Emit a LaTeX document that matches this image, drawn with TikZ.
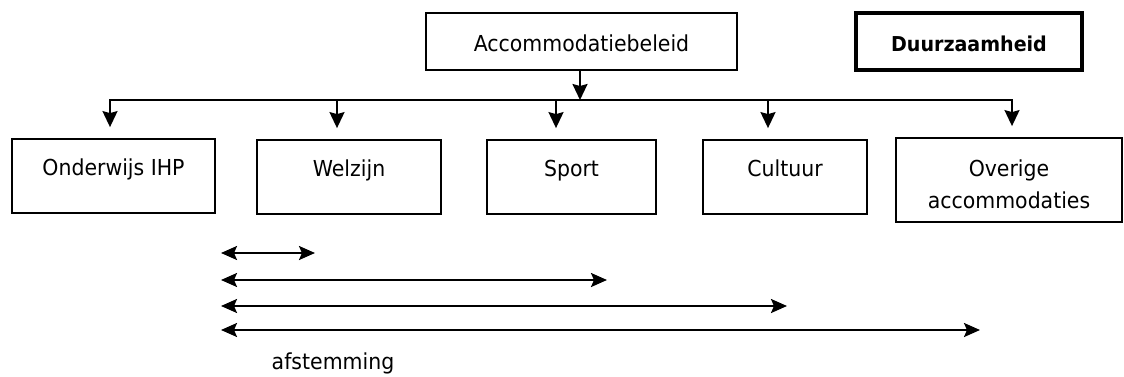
\documentclass[tikz,border=0pt]{standalone}
\usepackage{fontspec}
\setmainfont{DejaVu Sans}[FakeStretch=0.93]
\usetikzlibrary{arrows.meta}

\tikzset{
  vak/.style={draw, line width=1.8pt, minimum height=74pt, text height=16pt, text depth=18pt},
  kop/.style={draw, line width=1.8pt, minimum height=57pt, text height=20pt, text depth=0pt},
  pijl/.style={-{Stealth[length=16pt,width=15pt,inset=2pt]}, line width=2pt},
  tweepijl/.style={{Stealth[length=16pt,width=14pt,inset=3pt]}-{Stealth[length=16pt,width=14pt,inset=3pt]}, line width=2.2pt}
}

\begin{document}
\begin{tikzpicture}[x=1pt,y=-1pt,font=\fontsize{22}{32}\selectfont]
  \useasboundingbox (0,0) rectangle (1124,376);

  % top row
  \node[kop, minimum width=311pt] (beleid) at (581.5,41.5) {Accommodatiebeleid};
  \node[kop, line width=3.8pt, minimum width=226pt, font=\fontsize{20.5}{24}\bfseries] (duurzaam) at (969,41.5) {Duurzaamheid};

  % second row
  \node[vak, minimum width=203pt] (ihp) at (113.5,176) {Onderwijs IHP};
  \node[vak, minimum width=184pt] (welzijn) at (349,177) {Welzijn};
  \node[vak, minimum width=169pt] (sport) at (571.5,177) {Sport};
  \node[vak, minimum width=164pt] (cultuur) at (785,177) {Cultuur};
  \node[draw, line width=1.8pt, minimum width=226pt, minimum height=84pt, text height=40pt, text depth=18pt] (overig) at (1009,180)
    {\begin{tabular}{@{}c@{}}Overige\\accommodaties\end{tabular}};

  % verdeling
  \coordinate (bus) at (0,100);
  \draw[pijl] (580,0 |- beleid.south) -- (580,0 |- bus);
  \draw[{Stealth[length=16pt,width=15pt,inset=2pt]}-{Stealth[length=16pt,width=15pt,inset=2pt]}, line width=2pt, shorten <=11pt, shorten >=11pt]
    (110,0 |- ihp.north) -- (110,0 |- bus) -- (1012,0 |- bus) -- (1012,0 |- overig.north);
  \foreach \x/\n in {337/welzijn,556/sport,768/cultuur}
    \draw[pijl, shorten >=11pt] (\x,0 |- bus) -- (\x,0 |- \n.north);

  % afstemming
  \foreach \y/\e in {253/315,280/607,306/787,330/980}
    \draw[tweepijl] (221,\y) -- (\e,\y);
  \node (afstemming) at (333,363) {afstemming};
\end{tikzpicture}
\end{document}
